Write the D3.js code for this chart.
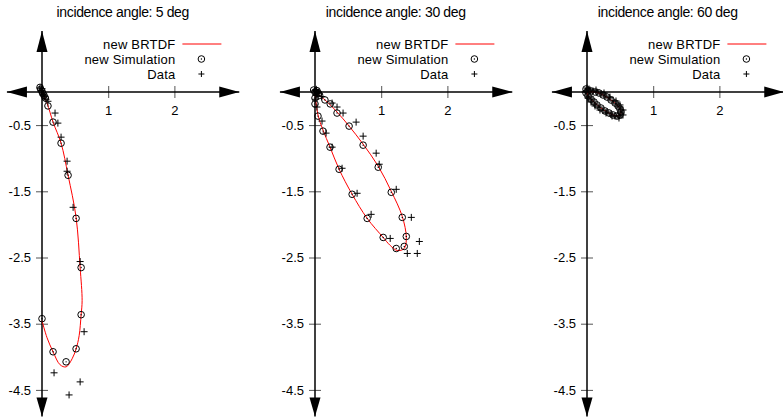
<!DOCTYPE html>
<html lang="en">
<head>
    <meta charset="UTF-8">
    <script src="https://d3js.org/d3.v7.min.js"></script>
    <title>BRTDF</title>
    <style>
        body { margin: 0; background: #fff; }
        text { font-family: "Liberation Sans", Arial, sans-serif; fill: #000; }
    </style>
</head>
<body>
<div id="viz"></div>
<script>
    // chart values
    const angles = [5, 30, 60];
    const xTicks = [1, 2];
    const yTicks = [-0.5, -1.5, -2.5, -3.5, -4.5];
    const legendLabels = ["new BRTDF", "new Simulation", "Data"];

    // 5 deg
    const brtdf5 = [[0, 0], [0.076, -0.167], [0.167, -0.455], [0.288, -0.773], [0.394, -1.258],
        [0.515, -1.894], [0.576, -2.652], [0.606, -3.152], [0.591, -3.364], [0.561, -3.682],
        [0.515, -3.879], [0.455, -4.03], [0.364, -4.152], [0.273, -4.12], [0.167, -3.924],
        [0.076, -3.712], [0, -3.455]];
    const sim5 = [[-0.03, 0.07], [-0.02, 0.04], [0, 0.01], [0.01, -0.02], [0.03, -0.05], [0.05, -0.09],
        [0.09, -0.21], [0.167, -0.455], [0.288, -0.773], [0.394, -1.258], [0.515, -1.909],
        [0.591, -2.652], [0.591, -3.364], [0.515, -3.879], [0.364, -4.076], [0.167, -3.924],
        [0, -3.424]];
    const data5 = [[-0.03, 0.06], [0, 0.05], [-0.01, 0.02], [0.02, -0.03], [0.02, -0.05], [0.04, -0.07],
        [0.06, -0.11], [0.09, -0.14], [0.197, -0.318], [0.24, -0.47], [0.288, -0.682], [0.379, -1.045],
        [0.379, -1.197], [0.47, -1.742], [0.576, -2.561], [0.636, -3.621], [0.182, -4.242],
        [0.576, -4.379], [0.409, -4.576]];

    // 30 deg
    const brtdf30 = [[0, 0], [0.152, -0.121], [0.333, -0.303], [0.515, -0.515], [0.727, -0.788],
        [0.955, -1.121], [1.152, -1.5], [1.318, -1.879], [1.379, -2.197], [1.348, -2.364],
        [1.242, -2.394], [1.136, -2.318], [1.03, -2.197], [0.788, -1.909], [0.561, -1.545],
        [0.364, -1.167], [0.227, -0.833], [0.121, -0.576], [0.045, -0.348], [0.015, -0.152],
        [0, 0]];
    const sim30 = [[-0.02, 0.03], [0, 0], [0.03, 0.02], [0.05, -0.02], [0.02, -0.01], [0.07, -0.05],
        [0.15, -0.12], [0.23, -0.18], [0.333, -0.318], [0.515, -0.515], [0.727, -0.803],
        [0.955, -1.136], [1.152, -1.515], [1.318, -1.894], [1.379, -2.182], [1.348, -2.333],
        [1.227, -2.364], [1.03, -2.197], [0.788, -1.909], [0.561, -1.545], [0.364, -1.167],
        [0.227, -0.833], [0.121, -0.591], [0.045, -0.364], [0, -0.18], [0, -0.09]];
    const data30 = [[0, 0.02], [0.02, 0.04], [0.05, 0], [0.02, -0.05], [0.04, -0.02], [0.1, -0.07],
        [0.258, -0.167], [0.333, -0.227], [0.424, -0.318], [0.621, -0.455], [0.727, -0.667],
        [0.924, -0.924], [0.97, -1.091], [1.227, -1.47], [1.455, -1.894], [1.576, -2.258],
        [1.545, -2.439], [1.394, -2.439], [1.136, -2.212], [0.848, -1.848], [0.636, -1.53],
        [0.409, -1.152], [0.258, -0.833], [0.167, -0.621], [0.106, -0.439], [0.03, -0.227],
        [0.01, -0.11]];

    // 60 deg
    const brtdf60 = [[0, 0], [0.121, 0], [0.242, -0.045], [0.363, -0.121], [0.468, -0.211],
        [0.514, -0.302], [0.498, -0.347], [0.453, -0.363], [0.332, -0.317], [0.211, -0.242],
        [0.106, -0.151], [0.015, -0.06], [0, 0]];
    const sim60 = [[-0.015, 0.045], [0.015, 0.015], [0.06, 0.015], [0.121, 0], [0.181, -0.015],
        [0.242, -0.045], [0.302, -0.076], [0.363, -0.121], [0.423, -0.166], [0.468, -0.211],
        [0.498, -0.257], [0.514, -0.302], [0.498, -0.347], [0.453, -0.363], [0.393, -0.347],
        [0.332, -0.317], [0.272, -0.287], [0.211, -0.242], [0.151, -0.196], [0.106, -0.151],
        [0.06, -0.106], [0.015, -0.06], [-0.015, -0.015]];
    const data60 = [[0, 0.06], [0.045, 0.03], [0.091, 0.015], [0.151, 0], [0.211, -0.03],
        [0.272, -0.06], [0.332, -0.091], [0.393, -0.136], [0.438, -0.181], [0.483, -0.227],
        [0.514, -0.272], [0.514, -0.332], [0.483, -0.363], [0.423, -0.363], [0.363, -0.332],
        [0.302, -0.302], [0.242, -0.272], [0.181, -0.227], [0.121, -0.181], [0.076, -0.121],
        [0.03, -0.076], [-0.015, 0.015],
        [0.03, 0.045], [0.136, 0.03], [0.257, -0.015], [0.347, -0.076], [0.438, -0.136],
        [0.498, -0.196], [0.544, -0.272], [0.544, -0.347], [0.483, -0.393], [0.378, -0.363],
        [0.287, -0.317], [0.196, -0.272], [0.121, -0.211], [0.06, -0.151], [0.015, -0.091],
        [-0.03, 0]];

    const brtdf = [brtdf5, brtdf30, brtdf60];
    const sims = [sim5, sim30, sim60];
    const meas = [data5, data30, data60];

    // layout
    const W = 783, H = 417;
    const k = 66.2;            // px per unit, same on both axes
    const originX = [42, 315, 587];
    const originY = 92;
    const xMin = -0.53, xMax = 2.98, yMin = -4.9, yMax = 0.92;

    const svg = d3.select("#viz")
        .append("svg")
        .attr("width", W)
        .attr("height", H);

    function arrow(g, x1, y1, dx, dy, len, half) {
        // filled triangle with tip at (x1, y1) pointing in (dx, dy)
        const bx = x1 - dx * len, by = y1 - dy * len;
        const px = -dy * half, py = dx * half;
        g.append("path")
            .attr("d", `M${x1},${y1}L${bx + px},${by + py}L${bx - px},${by - py}Z`)
            .attr("fill", "#000");
    }

    angles.forEach(function (ang, i) {
        const ox = originX[i];
        const x = d3.scaleLinear().domain([xMin, xMax]).range([ox + xMin * k, ox + xMax * k]);
        const y = d3.scaleLinear().domain([yMin, yMax]).range([originY - yMin * k, originY - yMax * k]);
        const g = svg.append("g");

        // title
        g.append("text")
            .attr("x", x(1.22))
            .attr("y", 17)
            .attr("text-anchor", "middle")
            .style("font-size", "14px")
            .style("letter-spacing", "-0.35px")
            .text(`incidence angle: ${ang} deg`);

        // x axis
        const xa = g.append("g")
            .attr("transform", `translate(0, ${y(0)})`)
            .call(d3.axisBottom(x).tickValues(xTicks).tickSize(6).tickFormat(d3.format("d")));
        xa.select(".domain").remove();
        xa.selectAll(".tick line").attr("y1", -6).attr("stroke", "#555");
        xa.selectAll(".tick text").attr("y", 14).attr("dy", "0.71em")
            .style("font-size", "13px").style("font-family", "Liberation Sans, Arial, sans-serif");

        // y axis
        const ya = g.append("g")
            .attr("transform", `translate(${x(0)}, 0)`)
            .call(d3.axisLeft(y).tickValues(yTicks).tickSize(6).tickFormat(d3.format(".1f")));
        ya.select(".domain").remove();
        ya.selectAll(".tick line").attr("x1", 6).attr("stroke", "#555");
        ya.selectAll(".tick text").attr("x", -11)
            .style("font-size", "13px").style("font-family", "Liberation Sans, Arial, sans-serif")
            .text(d => d3.format(".1f")(d).replace("−", "-"));

        // axis lines with arrows
        g.append("line")
            .attr("x1", x(xMin)).attr("x2", x(xMax))
            .attr("y1", y(0)).attr("y2", y(0))
            .attr("stroke", "#000").attr("stroke-width", 1.5);
        g.append("line")
            .attr("x1", x(0)).attr("x2", x(0))
            .attr("y1", y(yMax)).attr("y2", y(yMin))
            .attr("stroke", "#000").attr("stroke-width", 1.5);
        arrow(g, x(xMin), y(0), -1, 0, 20, 5.5);
        arrow(g, x(xMax), y(0), 1, 0, 20, 5.5);
        arrow(g, x(0), y(yMax), 0, -1, 21, 5.5);
        arrow(g, x(0), y(yMin), 0, 1, 19, 5.5);

        // BRTDF curve
        const line = d3.line()
            .x(d => x(d[0]))
            .y(d => y(d[1]))
            .curve(d3.curveCatmullRom.alpha(0.5));
        g.append("path")
            .datum(brtdf[i])
            .attr("d", line)
            .attr("fill", "none")
            .attr("stroke", "#ff0000")
            .attr("stroke-width", 1);

        // simulation circles
        const sg = g.append("g");
        sg.selectAll("circle.sim")
            .data(sims[i])
            .join("circle")
            .attr("class", "sim")
            .attr("cx", d => x(d[0]))
            .attr("cy", d => y(d[1]))
            .attr("r", 3.3)
            .attr("fill", "none")
            .attr("stroke", "#000")
            .attr("stroke-width", 1);
        sg.selectAll("circle.dot")
            .data(sims[i])
            .join("circle")
            .attr("class", "dot")
            .attr("cx", d => x(d[0]))
            .attr("cy", d => y(d[1]))
            .attr("r", 0.7)
            .attr("fill", "#000");

        // measured data crosses
        g.selectAll("path.cross")
            .data(meas[i])
            .join("path")
            .attr("class", "cross")
            .attr("d", d => `M${x(d[0]) - 3.5},${y(d[1])}h7M${x(d[0])},${y(d[1]) - 3.5}v7`)
            .attr("stroke", "#000")
            .attr("stroke-width", 1)
            .attr("fill", "none");

        // legend
        const tx = x(2) + 1;
        const rows = [44, 59, 74];
        const leg = g.append("g");
        leg.selectAll("text")
            .data(legendLabels)
            .join("text")
            .attr("x", tx)
            .attr("y", (d, j) => rows[j])
            .attr("dy", "0.35em")
            .attr("text-anchor", "end")
            .style("font-size", "13px")
            .style("letter-spacing", "0.2px")
            .text(d => d);
        leg.append("line")
            .attr("x1", tx + 7).attr("x2", tx + 46)
            .attr("y1", rows[0]).attr("y2", rows[0])
            .attr("stroke", "#ff0000").attr("stroke-width", 1);
        leg.append("circle")
            .attr("cx", tx + 26).attr("cy", rows[1]).attr("r", 3.3)
            .attr("fill", "none").attr("stroke", "#000");
        leg.append("circle")
            .attr("cx", tx + 26).attr("cy", rows[1]).attr("r", 0.7)
            .attr("fill", "#000");
        leg.append("path")
            .attr("d", `M${tx + 23},${rows[2]}h6M${tx + 26},${rows[2] - 3}v6`)
            .attr("stroke", "#000").attr("fill", "none");
    });
</script>
</body>
</html>
